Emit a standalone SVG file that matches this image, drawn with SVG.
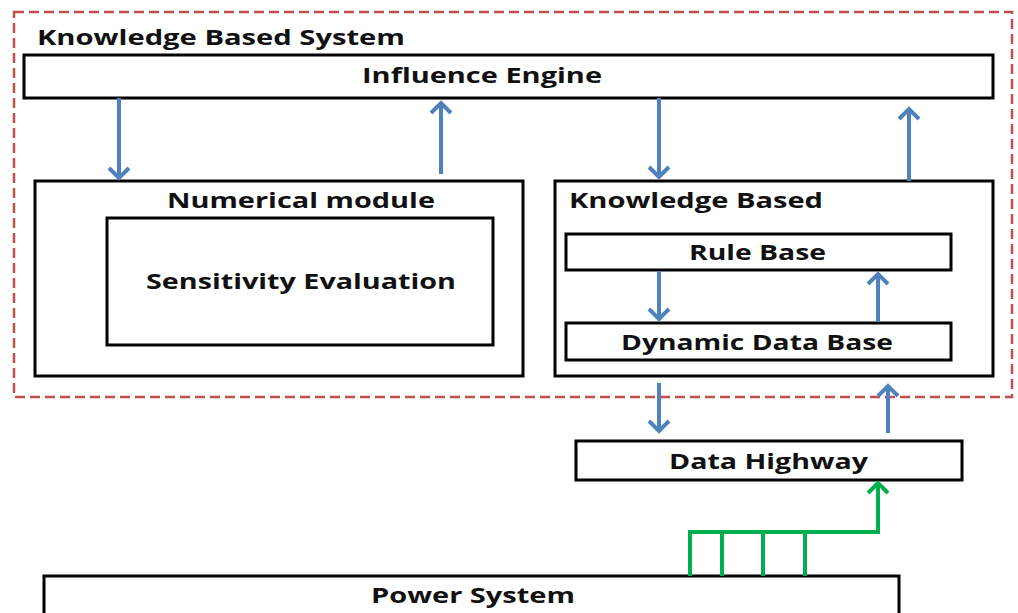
<svg xmlns="http://www.w3.org/2000/svg" width="1018" height="613" viewBox="0 0 1018 613">
<style>
.box{fill:#fff;stroke:#000;stroke-width:3}
.t{font-family:"Open Sans","Liberation Sans",sans-serif;font-weight:700;font-size:21px;fill:#111}
.c{text-anchor:middle}
.blue{stroke:#4F81BD;stroke-width:4;fill:none}
.green{stroke:#00B050;stroke-width:4;fill:none}
</style>
<defs>
<marker id="hb" markerUnits="userSpaceOnUse" orient="auto" overflow="visible" refX="0" refY="0" markerWidth="30" markerHeight="30">
<path d="M-10,-10 L0,0 L-10,10" fill="none" stroke="#4F81BD" stroke-width="4"/>
</marker>
<marker id="hg" markerUnits="userSpaceOnUse" orient="auto" overflow="visible" refX="0" refY="0" markerWidth="30" markerHeight="30">
<path d="M-10,-10 L0,0 L-10,10" fill="none" stroke="#00B050" stroke-width="4"/>
</marker>
</defs>
<rect width="1018" height="613" fill="#fff"/>
<g id="kbs">
<rect x="14" y="12" width="998" height="385" fill="none" stroke="#C0504D" stroke-width="2.5" stroke-dasharray="10,5"/>
<text class="t" x="37" y="45" textLength="368" lengthAdjust="spacingAndGlyphs">Knowledge Based System</text>
</g>
<g id="influence-engine">
<rect class="box" x="24" y="55" width="969" height="43"/>
<text class="t" x="362" y="83" textLength="240" lengthAdjust="spacingAndGlyphs">Influence Engine</text>
</g>
<g id="numerical-module">
<rect class="box" x="35" y="181" width="488" height="195"/>
<text class="t" x="167" y="208" textLength="268" lengthAdjust="spacingAndGlyphs">Numerical module</text>
</g>
<g id="sensitivity-evaluation">
<rect class="box" x="107" y="218" width="386" height="127"/>
<text class="t" x="146" y="289" textLength="310" lengthAdjust="spacingAndGlyphs">Sensitivity Evaluation</text>
</g>
<g id="knowledge-based">
<rect class="box" x="555" y="181" width="438" height="195"/>
<text class="t" x="569" y="208" textLength="254" lengthAdjust="spacingAndGlyphs">Knowledge Based</text>
</g>
<g id="rule-base">
<rect class="box" x="566" y="234" width="385" height="36"/>
<text class="t" x="689" y="260" textLength="137" lengthAdjust="spacingAndGlyphs">Rule Base</text>
</g>
<g id="dynamic-data-base">
<rect class="box" x="566" y="323" width="385" height="37"/>
<text class="t" x="621" y="350" textLength="272" lengthAdjust="spacingAndGlyphs">Dynamic Data Base</text>
</g>
<g id="data-highway">
<rect class="box" x="576" y="441" width="386" height="39"/>
<text class="t" x="669" y="469" textLength="199" lengthAdjust="spacingAndGlyphs">Data Highway</text>
</g>
<g id="power-system">
<rect class="box" x="44" y="576" width="855" height="50"/>
<text class="t" x="371" y="603" textLength="204" lengthAdjust="spacingAndGlyphs">Power System</text>
</g>
<g id="connectors">
<line class="blue" x1="119" y1="98" x2="119" y2="178" marker-end="url(#hb)"/>
<line class="blue" x1="441" y1="174" x2="441" y2="103" marker-end="url(#hb)"/>
<line class="blue" x1="659" y1="98" x2="659" y2="177" marker-end="url(#hb)"/>
<line class="blue" x1="909" y1="181" x2="909" y2="109" marker-end="url(#hb)"/>
<line class="blue" x1="659" y1="271" x2="659" y2="319" marker-end="url(#hb)"/>
<line class="blue" x1="878" y1="322" x2="878" y2="274" marker-end="url(#hb)"/>
<line class="blue" x1="659" y1="383" x2="659" y2="431" marker-end="url(#hb)"/>
<line class="blue" x1="888" y1="433" x2="888" y2="386" marker-end="url(#hb)"/>
<polyline class="green" points="690,576 690,532 878,532 878,483" marker-end="url(#hg)"/>
<line class="green" x1="722" y1="532" x2="722" y2="576"/>
<line class="green" x1="763" y1="532" x2="763" y2="576"/>
<line class="green" x1="805" y1="532" x2="805" y2="576"/>
</g>
</svg>
